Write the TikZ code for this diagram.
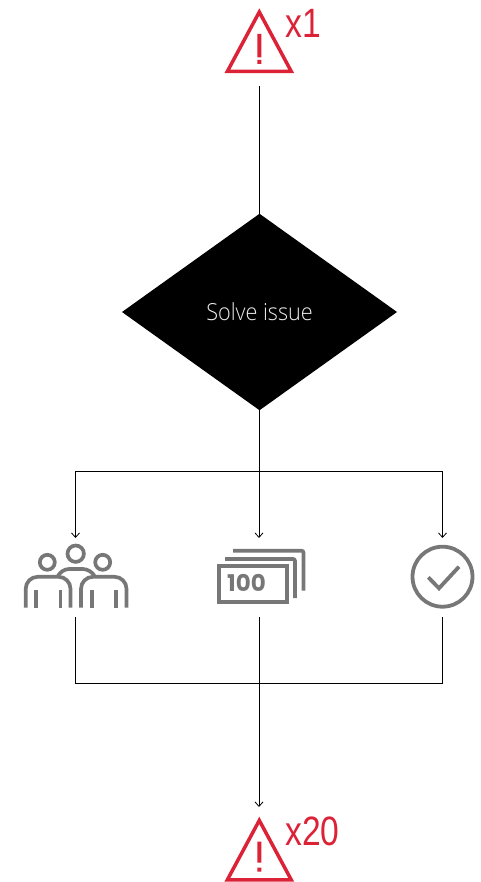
\documentclass[tikz,border=0pt]{standalone}
\usepackage{fontspec}
\usetikzlibrary{shapes.geometric,arrows.meta}
\setmainfont{Liberation Sans}
\newfontfamily\alertfont[FakeStretch=0.82]{Liberation Sans}
\newfontfamily\labelfont[FakeStretch=0.92]{Open Sans Light}
\newfontfamily\moneyfont{Poppins Bold}
\definecolor{alertred}{HTML}{DC2237}
\definecolor{icongray}{HTML}{777777}
\tikzset{
  flow/.style={draw=black,line width=0.9pt},
  flowarrow/.style={flow,-{Straight Barb[length=4.5pt,width=8pt,line width=0.8pt]}},
  slot/.style={minimum width=60pt,inner sep=0pt,outer sep=0pt},
  graystroke/.style={draw=icongray,line width=3.7pt},
  redstroke/.style={draw=alertred,line width=3.5pt,miter limit=10},
  count/.style={text=alertred,anchor=base west,inner sep=0pt,font=\alertfont\fontsize{41}{41}\selectfont},
}
\begin{document}
\begin{tikzpicture}[x=1pt,y=-1pt]
\useasboundingbox (0,0) rectangle (481,882);
% invisible slots that the connectors attach to
\node[slot,minimum height=80pt] (top) at (259,46) {};
\node[slot,minimum height=79pt] (people) at (75.5,577.5) {};
\node[slot,minimum height=79pt] (money) at (259,577.5) {};
\node[slot,minimum height=79pt] (check) at (442.5,577.5) {};
\node[slot,minimum height=75pt] (bottom) at (259,844.5) {};
% decision
\node[diamond,fill=black,minimum width=275pt,minimum height=196.5pt,inner sep=0pt,outer sep=0pt,
  text=white!92!black,font=\labelfont\fontsize{23.5}{24}\selectfont] (solve) at (259.5,312) {\raisebox{-0.5pt}{Solve issue}};
% connectors
\coordinate (split) at (259,471);
\coordinate (join) at (259,683);
\draw[flow] (top.south) -- (top.south |- solve.north);
\draw[flowarrow] (solve.south -| money.north) -- (money.north);
\draw[flowarrow] (split) -| (people.north);
\draw[flowarrow] (split) -| (check.north);
\draw[flow] (people.south) |- (join);
\draw[flow] (check.south) |- (join);
\draw[flowarrow] (money.south) -- (bottom.north);
% top alert
\draw[redstroke] (227.3,71.5) -- (291.3,71.5) -- (259.3,12) -- cycle;
\fill[alertred] (257.3,34) rectangle (261.3,57.3) (257.3,60) rectangle (261.3,64);
\node[count] (countone) at (285,37.5) {x1};
% bottom alert
\begin{scope}[yshift=-808.4pt]
\draw[redstroke] (227.3,71.5) -- (291.3,71.5) -- (259.3,12) -- cycle;
\fill[alertred] (257.3,33.3) rectangle (261.3,54.3) (257.3,59.3) rectangle (261.3,63.3);
\end{scope}
\node[count] (counttwenty) at (285,845) {x20};
% people icon
\draw[graystroke] (75.7,553.7) circle (8.2);
\draw[graystroke] (47.3,562.3) circle (7.5);
\draw[graystroke] (102.7,562.3) circle (7.5);
\draw[graystroke,rounded corners=12pt] (25.7,607.5) -- (25.7,576.8) -- (70.5,576.8) -- (70.5,607.5);
\draw[graystroke,rounded corners=12pt] (81,607.5) -- (81,576.8) -- (126.5,576.8) -- (126.5,607.5);
\draw[graystroke] (36,590) -- (36,607.5) (60.5,590) -- (60.5,607.5) (92,590) -- (92,607.5) (116,590) -- (116,607.5);
\draw[graystroke,rounded corners=8pt] (57.5,577) -- (61,569) -- (91,569) -- (95,577);
% money icon
\draw[graystroke] (219,566) rectangle (286.7,602.3);
\draw[graystroke,rounded corners=2pt] (225,559) -- (295,559) -- (295,598);
\draw[graystroke,rounded corners=2pt] (233,550.7) -- (303.5,550.7) -- (303.5,590.7);
\node[inner sep=0pt,text=icongray,anchor=base,font=\moneyfont\fontsize{23}{23}\selectfont] (amount) at (246.5,591.7) {100};
% check icon
\draw[draw=icongray,line width=3.8pt] (442.5,576.7) circle (30);
\draw[draw=icongray,line width=3.8pt] (428.3,577.3) -- (439,588.3) -- (459,566.7);
\end{tikzpicture}
\end{document}
